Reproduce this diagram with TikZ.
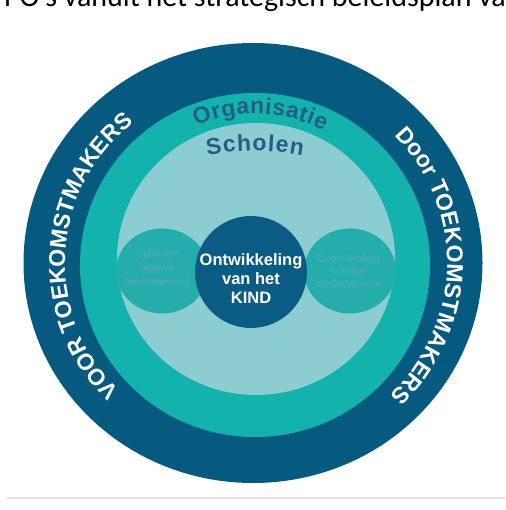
\documentclass[tikz,border=0pt]{standalone}
\usepackage{fontspec}
\setmainfont{Liberation Sans}
\newfontfamily\calibri{Carlito}
\usetikzlibrary{decorations.text,shapes.geometric}
\definecolor{darkblue}{HTML}{065A80}
\definecolor{ringteal}{HTML}{14B2AC}
\definecolor{lightteal}{HTML}{8CCDD2}
\definecolor{midteal}{HTML}{25ADAB}
\definecolor{centreblue}{HTML}{0A5C85}
\definecolor{smalltext}{HTML}{4FA8BE}
\definecolor{labelblue}{HTML}{215F85}
\definecolor{linegray}{HTML}{E2E2E2}
\tikzset{
  sidebubble/.style={ellipse, fill=midteal, inner sep=0pt, minimum width=92pt, minimum height=85pt},
  sidetext/.style={align=center, text=smalltext, font=\fontsize{11}{14}\selectfont},
  centrebubble/.style={circle, fill=centreblue, inner sep=0pt, minimum size=112pt},
  centretext/.style={align=center, text=white, font=\bfseries\fontsize{16.5}{19}\selectfont},
}
\begin{document}
\begin{tikzpicture}[x=1pt,y=1pt]
\useasboundingbox (0,0) rectangle (505,510);
\clip (0,0) rectangle (505,510);
\fill[white] (0,0) rectangle (505,510);
% partly visible title
\node[anchor=base west, inner sep=0pt, font=\calibri\fontsize{30}{30}\selectfont] (title) at (4,503.5) {PO’s vanuit het strategisch beleidsplan van};
% separator line
\coordinate (lineL) at (7,12);
\coordinate (lineR) at (505,12);
\draw[linegray, line width=1.5pt] (lineL) -- (lineR);
% rings
\fill[darkblue] (253,247) ellipse [x radius=229.5, y radius=220];
\fill[ringteal] (255,245) ellipse [x radius=175, y radius=172];
\fill[lightteal] (256,251) ellipse [x radius=139, y radius=136];
% bubbles
\node[sidebubble] (left) at (162,239) {};
\node[sidebubble] (right) at (350,239) {};
\node[centrebubble] (centre) at (251,238) {};
\node[sidetext] (lefttext) at (157,242) {Opleiden\\nieuwe\\medewerkers};
\node[sidetext, font=\fontsize{11}{12.5}\selectfont] (righttext) at (348,239) {Ontwikkeling\\huidige\\medewerkers};
\node[centretext] (centretxt) at (251,231) {Ontwikkeling\\van het\\KIND};
% curved labels
\path[decorate, decoration={text along path, text align=center,
  text={|\fontsize{23}{23}\selectfont\bfseries\color{white}|VOOR TOEKOMSTMAKERS}}]
  (253,247) ++(261:188 and 181) arc[start angle=261, end angle=93, x radius=188, y radius=181];
\path[decorate, decoration={text along path, text align=center,
  text={|\fontsize{23}{23}\selectfont\bfseries\color{white}|Door TOEKOMSTMAKERS}}]
  (253,247) ++(85:194 and 187) arc[start angle=85, end angle=-87, x radius=194, y radius=187];
\path[decorate, decoration={text along path, text align=fit to path,
  text={|\fontsize{23}{23}\selectfont\bfseries\color{labelblue}|Organisatie}}]
  (255,245) ++(113:151) arc[start angle=113, end angle=63, radius=151];
\path[decorate, decoration={text along path, text align=fit to path,
  text={|\fontsize{23}{23}\selectfont\bfseries\color{labelblue}|Scholen}}]
  (255,109) ++(101:250) arc[start angle=101, end angle=79, radius=250];
\end{tikzpicture}
\end{document}
